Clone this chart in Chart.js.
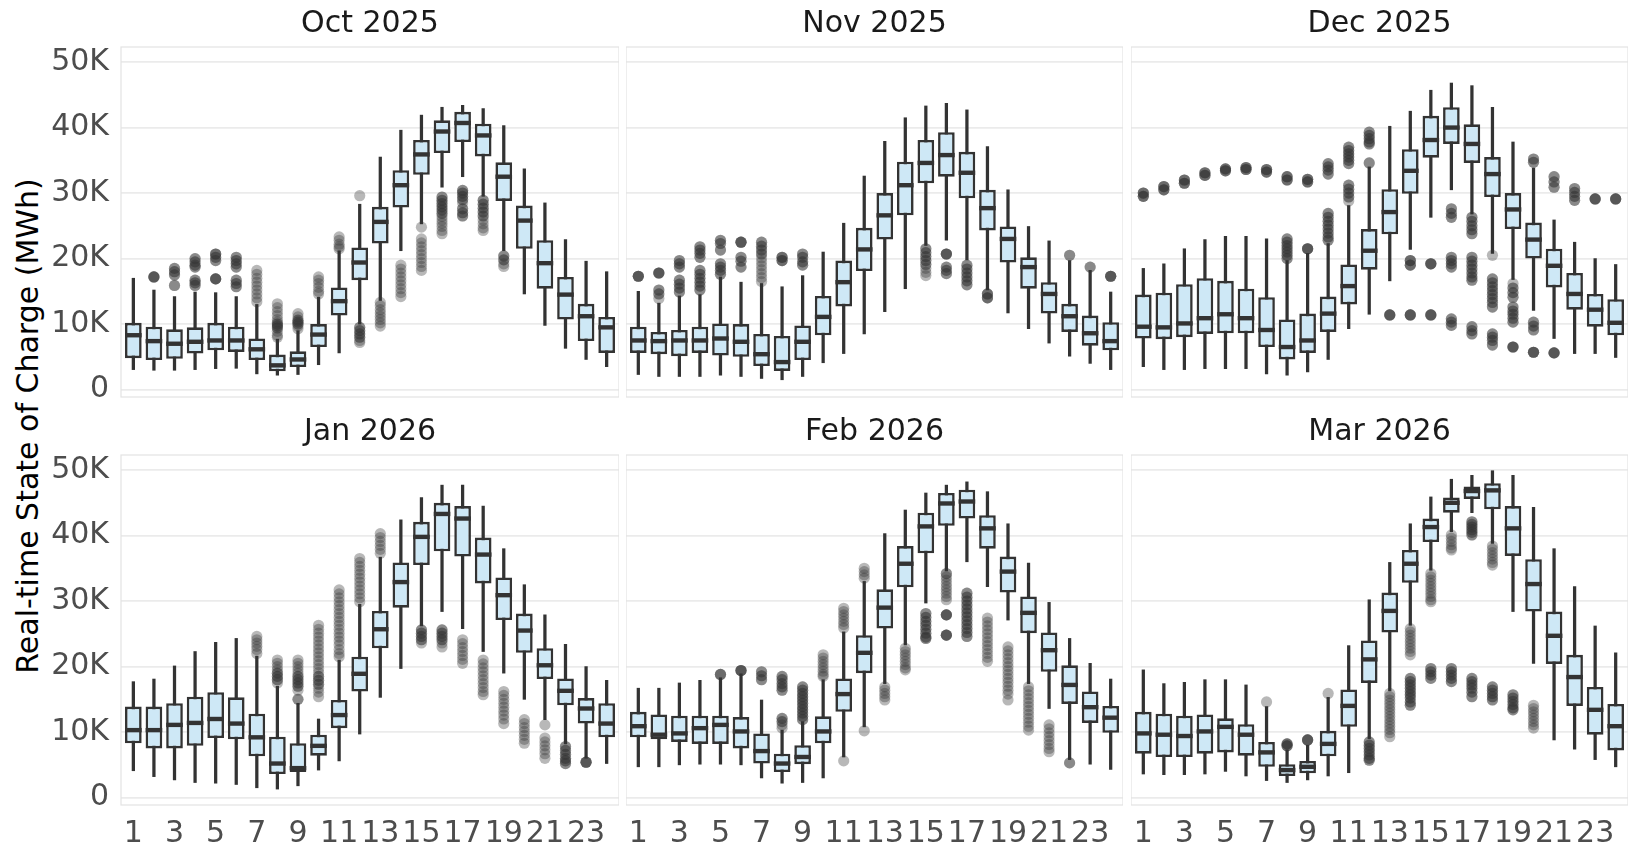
<!DOCTYPE html>
<html>
<head>
<meta charset="utf-8">
<script src="https://cdn.jsdelivr.net/npm/chart.js@4.4.1/dist/chart.umd.min.js"></script>
<style>
	body {margin:0;background:#fff;width:1628px;height:843px;overflow:hidden;position:relative;font-family:"DejaVu Sans"}
	canvas {position:absolute}
	#ytitle {position:absolute;left:27px;top:426px;transform:translate(-50%,-50%) rotate(-90deg);font-size:30px;white-space:nowrap;color:#000}
</style>
</head>
<body>
<div id="ytitle">Real-time State of Charge (MWh)</div>
<script>
const hours = [1,2,3,4,5,6,7,8,9,10,11,12,13,14,15,16,17,18,19,20,21,22,23,24]
const xTicks = [1,3,5,7,9,11,13,15,17,19,21,23]
const yTicks = [0,10000,20000,30000,40000,50000]
const months = ['Oct 2025','Nov 2025','Dec 2025','Jan 2026','Feb 2026','Mar 2026']

// box stats per hour (MWh): whisker low, Q1, median, Q3, whisker high
// outliers: [hour, value, days at that value (default 1)]
const octLo  = [3050,2950,2950,3050,3200,3250,2400,2200,2300,3800,5600,10000,13600,21200,25300,30900,32500,29500,21200,14600,9800,6300,4600,3500]
const octQ1  = [4800,4500,4700,5500,6000,5750,4500,2800,3450,6500,11300,16700,22300,27800,32800,36100,37800,35600,28800,21500,15400,10700,7400,5600]
const octMed = [8300,7400,7000,7300,7500,7500,6150,3700,4600,8400,13500,19400,25600,31200,35900,39400,40700,38800,32500,25800,19300,14500,11200,9500]
const octQ3  = [10200,9600,9200,9500,10200,9600,7800,5350,5850,10000,15600,21700,27900,33500,38100,41100,42400,40600,34700,28100,22800,17200,13100,11100]
const octHi  = [17000,15200,14200,14900,14800,14200,13000,7700,9000,14100,21200,28300,35500,39600,41900,43100,43400,42900,40300,33700,28500,22900,19600,18000]
const octOut = [[2,17200,4],[3,18500,2],[3,18000,2],[3,17500,2],[3,15900,2],
	[4,20000,2],[4,19500,2],[4,19000,2],[4,18700,2],[4,16700,2],[4,16300,2],[4,15900,2],
	[5,20700,3],[5,20200,2],[5,19700,2],[5,16900,4],
	[6,20200,2],[6,19700,2],[6,19200,2],[6,18700,2],[6,16700,2],[6,16200,2],[6,15700,2],
	[7,18200],[7,17600],[7,17000],[7,16400],[7,15800],[7,15200],[7,14600],[7,14000],[7,13400],
	[8,13100],[8,12500],[8,11900],[8,11300],[8,10700],[8,10300],[8,10000,2],[8,9700,2],[8,9400,2],[8,8900],[8,8300],[8,8000],
	[9,11600],[9,11100],[9,10600,2],[9,10300,2],[9,10000,2],[9,9700],[9,9300],
	[10,17200],[10,16700],[10,16200],[10,15600],[10,15000],[10,14600],
	[11,23300],[11,22800],[11,22200],[11,21800],[11,21500],
	[12,29600],[12,9500,2],[12,9000,2],[12,8500,2],[12,8000,2],[12,7500],[12,7200],
	[13,13300],[13,12800],[13,12200],[13,11700],[13,11200],[13,10700],[13,10200],[13,9700],
	[14,19000],[14,18400],[14,17800],[14,17200],[14,16600],[14,16000],[14,15400],[14,14800],[14,14200],
	[15,24800],[15,23000],[15,22400],[15,21800],[15,21200],[15,20600],[15,20000],[15,19400],[15,18800],[15,18200],
	[16,29400,2],[16,28900,2],[16,28400,2],[16,27900,2],[16,27400,2],[16,26900,2],[16,26400],[16,25900],[16,25400],[16,24900],[16,24300],[16,23800],
	[17,30400,2],[17,30000,2],[17,29500,2],[17,29000,2],[17,28500],[17,27600,2],[17,27000,2],[17,26500,2],
	[18,28900,2],[18,28300,2],[18,27700,2],[18,27100,2],[18,26500,2],[18,25900],[18,25300],[18,24700],[18,24300],
	[19,20400,2],[19,19800,2],[19,19200],[19,18800]]

const novLo  = [2300,2000,2000,2000,2200,2000,1700,1500,2000,4100,5500,8500,11900,15400,22000,22800,19800,15200,11700,9300,7100,5100,4000,3050]
const novQ1  = [5600,5400,5100,5600,5200,5000,3600,2850,4500,8300,12700,18100,22900,26600,31500,32500,29200,24300,19400,15400,11600,8800,6700,6000]
const novMed = [7500,7400,7500,7500,7800,7300,5400,4200,7300,11100,16400,21400,26600,31200,34600,35800,33100,27700,23000,18700,14600,11200,8600,7400]
const novQ3  = [9600,8800,9100,9600,10100,10000,8500,8200,9800,14300,19700,24700,30000,34800,38100,39300,36300,30500,24900,20200,16400,13100,11300,10300]
const novHi  = [15000,13200,14300,14500,17200,16400,16200,15700,17400,21000,25400,32600,37900,41500,43300,43700,42700,37100,30500,24900,22700,19700,18200,14900]
const novOut = [[1,17300,4],[2,17800,4],[2,15200,2],[2,14600,2],[2,13900],
	[3,19700,2],[3,19200,2],[3,18700,2],[3,16700,2],[3,16100,2],[3,15500,2],[3,14900,2],
	[4,21800,2],[4,21300,2],[4,20800,2],[4,20200,2],[4,18200,2],[4,17600,2],[4,17000,2],[4,16400,2],[4,15800,2],[4,15200,2],
	[5,22800,2],[5,22300,2],[5,21300,2],[5,19200,2],[5,18700,2],[5,18200,2],[5,17600,2],
	[6,22500,4],[6,20200,2],[6,19600,2],[6,18700,2],
	[7,22500,2],[7,21900,2],[7,21300,2],[7,20700,2],[7,20100],[7,19500],[7,18900],[7,18300],[7,17700],[7,17100],[7,16500],
	[8,20200,3],[8,19700,3],[9,20700,2],[9,20200,2],[9,19500,2],[9,19000,2],
	[15,21500,2],[15,20900,2],[15,20300,2],[15,19700,2],[15,19100,2],[15,18500],[15,17900],[15,17400],
	[16,20700,4],[16,18700,2],[16,18200,2],[16,17700,2],
	[17,19000,2],[17,18400,2],[17,17800,2],[17,17200,2],[17,16600,2],[17,16000,2],
	[18,14600,3],[18,14000,3],[22,20500,2],[23,18700,2],[24,17300,4]]

const decLo  = [3500,3050,3050,3200,3200,3200,2400,2200,2700,4600,9300,11500,16600,21400,26300,30500,26800,20800,16800,12100,7800,5500,5500,4900]
const decQ1  = [7800,7700,8000,8500,8600,8600,6500,4600,5600,8800,13000,18300,23700,29900,35400,37500,34600,29400,24500,20000,15600,12200,9600,8300]
const decMed = [9600,9500,10100,10900,11500,10900,9100,6500,7500,11600,15800,21200,27100,33400,38100,40000,37500,32900,27500,22900,18900,14600,12200,10200]
const decQ3  = [14500,14800,16100,17000,16600,15400,14100,10700,11600,14200,19100,24500,30600,36700,41800,43100,40500,35500,30000,25500,21500,17800,14600,13800]
const decHi  = [18500,19200,21500,22900,23400,23400,23000,19700,20800,22300,28100,34000,40200,42500,45700,46800,46400,43100,37800,33800,25900,22500,20000,19100]
const decOut = [[1,29500,3],[1,30000,3],[2,30500,3],[2,31000,3],[3,31500,3],[3,32000,3],[4,32700,3],[4,33100,3],
	[5,33400,3],[5,33700,3],[6,33600,3],[6,33900,3],[7,33200,3],[7,33600,3],
	[8,32000,3],[8,32500,3],[8,23000,2],[8,22500,2],[8,22000,2],[8,21500,2],[8,21000,2],[8,20500,2],[8,20000,2],
	[9,31700,3],[9,32100,3],[9,21500,4],
	[10,34500,2],[10,34000,2],[10,33500,2],[10,32900,2],[10,26900,2],[10,26300,2],[10,25700,2],[10,25100,2],[10,24500,2],[10,23900,2],[10,23300,2],[10,22800,2],
	[11,37000,2],[11,36500,2],[11,36000,2],[11,35500,2],[11,35000,2],[11,34500,2],[11,31200,2],[11,30600,2],[11,30000,2],[11,29400,2],[11,28800],
	[12,39300,2],[12,38800,2],[12,38300,2],[12,37800,2],[12,37500,2],[12,34600,2],
	[13,11400,4],[14,19700,3],[14,19000,3],[14,11400,4],[15,19200,4],[15,11400,4],
	[16,27600,2],[16,26900,2],[16,26300,2],[16,20200,2],[16,19700,2],[16,19200,2],[16,18700,2],[16,10800,2],[16,10300,2],[16,9800,2],
	[17,26300,2],[17,25700,2],[17,25000,2],[17,24400,2],[17,23800,2],[17,20200,2],[17,19600,2],[17,19000,2],[17,18400,2],[17,17800,2],[17,17200,2],[17,16700,2],[17,9600,2],[17,9000,2],[17,8500,2],
	[18,20500],[18,16900,2],[18,16300,2],[18,15700,2],[18,15100,2],[18,14500,2],[18,13900,2],[18,13300,2],[18,12600,2],[18,8500,2],[18,8000,2],[18,7500,2],[18,6800,2],
	[19,16200],[19,15500,2],[19,14800,2],[19,14100,2],[19,12600,2],[19,12000,2],[19,11500,2],[19,10900,2],[19,10300,2],[19,6500,4],
	[20,35200,2],[20,34700,2],[20,10300,2],[20,9700,2],[20,9100,2],[20,5700,4],
	[21,32500,2],[21,31700,2],[21,30900,2],[21,5600,4],
	[22,30700,2],[22,30100,2],[22,29500,2],[22,28900,2],[23,29100,4],[24,29100,4]]

const janLo  = [4100,3200,2700,2300,2200,2000,1500,1300,1800,4200,5600,9700,15300,19700,26200,28400,25800,22300,19000,15000,11900,8200,6000,5200]
const janQ1  = [8300,7500,7500,7900,9100,8900,6300,3600,3900,6400,10600,16200,22800,29000,35500,37600,36800,32700,27100,22100,18100,14100,11300,9200]
const janMed = [10300,10300,11100,11400,12000,11300,9200,5200,4500,7900,12600,18900,25700,32900,39800,43300,42600,37100,30900,25500,20200,16300,13600,11300]
const janQ3  = [13900,13900,14400,15400,16100,15300,12800,9300,8300,9600,14900,21500,28500,35900,42100,45000,44500,39700,33600,28100,22800,18200,15200,14400]
const janHi  = [17700,18100,20100,22300,23700,24300,21600,17000,14400,12000,21000,29500,36700,42400,45800,47700,47700,44500,38000,32500,27900,23400,20000,17900]
const janOut = [[7,24600],[7,24100],[7,23600],[7,23100],[7,22600],[7,22000],
	[8,21000],[8,20500],[8,20000],[8,19500],[8,19000,2],[8,18500,2],[8,18000,2],[8,17500],
	[9,21000],[9,20500],[9,20000],[9,19500],[9,19000],[9,18500,2],[9,18000,2],[9,17500,2],[9,17000,2],[9,16400],[9,15000,2],
	[10,26300],[10,25700],[10,25100],[10,24500],[10,23900],[10,23300],[10,22700],[10,22100],[10,21500],[10,20900],[10,20300],[10,19700],[10,19100],[10,18500,2],[10,17900,2],[10,17300,2],[10,16700],[10,16100],[10,15400],
	[11,31700],[11,31100],[11,30500],[11,29900],[11,29300],[11,28700],[11,28100],[11,27500],[11,26900],[11,26300],[11,25700],[11,25100],[11,24500],[11,23900],[11,23300],[11,22600],[11,22000],[11,21500],
	[12,36500],[12,35900],[12,35300],[12,34700],[12,34100],[12,33500],[12,32900],[12,32300],[12,31700],[12,31100],[12,30500],[12,29900],
	[13,40300],[13,39700],[13,39100],[13,38500],[13,37900],[13,37300],
	[15,25600,2],[15,25100,2],[15,24600,2],[15,24100,2],[15,23600],
	[16,25600,2],[16,25100,2],[16,24600,2],[16,24100,2],[16,23600],[16,23000],
	[17,24100],[17,23500],[17,22900],[17,22300],[17,21700],[17,21100],[17,20500],
	[18,21000],[18,20400],[18,19800],[18,19200],[18,18600],[18,18000],[18,17400],[18,16800],[18,16200],[18,15700],
	[19,16200],[19,15600],[19,15000],[19,14400],[19,13800],[19,13200],[19,12600],[19,12000],[19,11300],
	[20,11900],[20,11300],[20,10700],[20,10100],[20,9500],[20,8900],[20,8300],
	[21,11100],[21,9100],[21,8500],[21,7900],[21,7300],[21,6700],[21,6000],
	[22,7800,2],[22,7200,2],[22,6600,2],[22,6000,2],[22,5600,2],[22,5200,2],[23,5400,4]]

const febLo  = [4700,4700,5000,5100,5100,5000,3000,2200,2300,3000,6200,10800,17400,23300,29700,34600,36000,32200,27100,17400,13600,5800,5100,4300]
const febQ1  = [9200,8900,8500,8200,8200,7500,5200,3900,5100,8300,13100,19000,25800,32100,37300,41500,42600,38000,31300,25100,19200,14300,11400,9900]
const febMed = [10900,9600,9800,10600,11100,10100,7100,5200,6200,10100,15800,22100,29000,35700,41400,44900,45200,41100,34500,28200,22500,17200,13800,12200]
const febQ3  = [13100,12700,12500,12500,12500,12300,9800,6700,8000,12400,18200,24800,31800,38400,43500,46500,47000,43100,36800,30700,25200,20200,16200,14000]
const febHi  = [16700,16700,17500,17900,18300,18900,14900,10300,11600,18000,25300,33000,40300,43900,46500,47700,48200,46700,41800,35800,29800,24300,20500,18100]
const febOut = [[5,18800,3],[6,19400,4],[7,19200,2],[7,18600,2],[7,18000,2],
	[8,18500,2],[8,18000,2],[8,17400,2],[8,16900,2],[8,16400,2],[8,12100,2],[8,11600,2],[8,11100],[8,10600],
	[9,16900,2],[9,16400,2],[9,15900,2],[9,15400,2],[9,14900,2],[9,14400,2],[9,13900,2],[9,13400,2],[9,12900,2],[9,12400,2],[9,11900,2],
	[10,21800],[10,21300],[10,20800],[10,20300],[10,19800],[10,19300],[10,18800],[10,18500],
	[11,28900],[11,28400],[11,27900],[11,27400],[11,26900],[11,26400],[11,25900],[11,5600],
	[12,35000],[12,34500],[12,34000],[12,33500],[12,10200],
	[13,16900],[13,16400],[13,15900],[13,15400],[13,14900],
	[14,22800],[14,22300],[14,21800],[14,21300],[14,20800],[14,20300],[14,19800],[14,19500],
	[15,28100,2],[15,27500,2],[15,26900,2],[15,26300,2],[15,25700,2],[15,25100,2],[15,24500,2],[15,24300,2],
	[16,34200,2],[16,33700],[16,33200],[16,32700],[16,32200],[16,31700],[16,31200],[16,30700],[16,30200],[16,27900,4],[16,24800,4],
	[17,31200,2],[17,30600,2],[17,30000,2],[17,29400,2],[17,28800,2],[17,28200,2],[17,27600,2],[17,27000,2],[17,26400,2],[17,25800,2],[17,25200,2],[17,24600,2],
	[18,27400],[18,26800],[18,26200],[18,25600],[18,25000],[18,24400],[18,23800],[18,23200],[18,22600],[18,22000],[18,21400],[18,20800],
	[19,23000],[19,22400],[19,21800],[19,21200],[19,20600],[19,20000],[19,19400],[19,18800],[19,18200],[19,17600],[19,17000],[19,16400],[19,15800],[19,14900],
	[20,16900],[20,16300],[20,15700],[20,15100],[20,14500],[20,13900],[20,13300],[20,12700],[20,12100],[20,11500],[20,10900],[20,10300],
	[21,11100],[21,10500],[21,9900],[21,9300],[21,8700],[21,8100],[21,7500],[21,7000],[22,5300,2]]

const marLo  = [3600,3500,3500,3600,4000,3300,2600,2300,2700,3300,3800,9000,16300,26300,34700,40600,43500,38800,28400,20500,8800,7400,5800,4700]
const marQ1  = [6700,6200,6200,6700,6900,6400,4700,3300,3700,6300,10800,17500,25200,32800,39000,43500,45600,44000,36900,28400,20400,14000,9600,7200]
const marMed = [9800,9600,9400,10100,10800,9600,6900,4200,4700,8200,14000,21100,28500,35700,41300,45000,46800,46900,41100,32600,24700,18400,13400,10900]
const marQ3  = [13100,12800,12500,12700,12100,11200,8500,5100,5600,10200,16500,24000,31300,37800,42600,45800,47500,48000,44500,36400,28400,21800,16900,14300]
const marHi  = [19500,17400,17600,18000,18000,17200,13900,7300,8000,15300,23200,30200,35900,41800,45900,48600,49200,49900,49200,44300,38000,32200,26200,22100]
const marOut = [[7,14600],[8,8200,3],[8,7900,3],[9,8800,4],[10,15900],
	[12,8500,2],[12,8000,2],[12,7500,2],[12,7000,2],[12,6500,2],[12,6000,2],[12,5700,2],
	[13,15900],[13,15400],[13,14900],[13,14400],[13,13900],[13,13400],[13,12900],[13,12400],[13,11900],[13,11400],[13,10900],[13,10400],[13,9900],[13,9300],
	[14,25800],[14,25300],[14,24800],[14,24300],[14,23800],[14,23300],[14,22800],[14,22300],[14,21800],[14,18200,2],[14,17700,2],[14,17200,2],[14,16700,2],[14,16200,2],[14,15700,2],[14,15200,2],[14,14600,2],[14,14100,2],
	[15,34200],[15,33700],[15,33200],[15,32700],[15,32200],[15,31700],[15,31200],[15,30700],[15,30200],[15,29900],[15,19700,2],[15,19200,2],[15,18700,2],[15,18200,2],
	[16,40100],[16,39600],[16,39100],[16,38600],[16,38100],[16,37800],[16,19700,2],[16,19200,2],[16,18700,2],[16,18200,2],[16,17700,2],
	[17,42100,2],[17,41700,2],[17,41300,2],[17,40900,2],[17,40500,2],[17,40100,2],[17,18200,2],[17,17700,2],[17,17200,2],[17,16700,2],[17,16100,2],[17,15400,2],
	[18,38400],[18,37900],[18,37400],[18,36900],[18,36400],[18,35900],[18,35500],[18,16900,2],[18,16400,2],[18,15900,2],[18,15400,2],[18,14900,2],
	[19,15700,2],[19,15200,2],[19,14700,2],[19,14200,2],[19,13700,2],[19,13400,2],
	[20,14100],[20,13600],[20,13100],[20,12600],[20,12100],[20,11600],[20,11100],[20,10600]]

const panelLeft = [121, 626, 1131]
const panelWidth = [498, 497, 497]
const panelTop = [47, 455]
const panelHeight = 350
const titleH = 47
const boxFill = '#CEE8F6'
const inkColor = '#333333'

Chart.defaults.font.family = 'DejaVu Sans'
Chart.defaults.animation = false

const panelBorder = {
	id: 'panelBorder',
	beforeDatasetsDraw(chart) {
		const {ctx, chartArea} = chart
		ctx.save()
		ctx.strokeStyle = '#E3E3E3'
		ctx.lineWidth = 1.2
		ctx.strokeRect(chartArea.left, chartArea.top, chartArea.right - chartArea.left, chartArea.bottom - chartArea.top)
		ctx.restore()
	}
}

function noPadding(axis) {
	axis.paddingLeft = 0
	axis.paddingRight = 0
	axis.paddingTop = 0
	axis.paddingBottom = 0
}

function drawPanel(idx, title, lo, q1, med, q3, hi, out) {
	const col = idx % 3
	const row = Math.floor(idx / 3)
	const yAxisW = col === 0 ? 81 : 0
	const xAxisH = row === 1 ? 38 : 0
	const spare = row === 0 ? 20 : 0

	const canvas = document.createElement('canvas')
	canvas.width = panelWidth[col] + yAxisW
	canvas.height = titleH + panelHeight + xAxisH + spare
	canvas.style.left = (panelLeft[col] - yAxisW) + 'px'
	canvas.style.top = (panelTop[row] - titleH) + 'px'
	document.body.appendChild(canvas)

	const outPoints = []
	out.forEach(([h, v, n = 1]) => {
		for (let k = 0; k < n; k++) outPoints.push({x: h, y: v})
	})

	new Chart(canvas, {
		type: 'bar',
		data: {
			datasets: [
				{
					label: 'whisker',
					data: hours.map((h, i) => ({x: h, y: [lo[i], hi[i]]})),
					backgroundColor: inkColor,
					barThickness: 2.6,
					maxBarThickness: 2.6,
					grouped: false,
					order: 4,
				},
				{
					label: 'box',
					data: hours.map((h, i) => ({x: h, y: [q1[i], q3[i]]})),
					backgroundColor: boxFill,
					borderColor: inkColor,
					borderWidth: 2.6,
					borderSkipped: false,
					barPercentage: 0.81,
					categoryPercentage: 1,
					grouped: false,
					order: 3,
				},
				{
					type: 'line',
					label: 'median',
					data: hours.map((h, i) => ({x: h, y: med[i]})),
					showLine: false,
					pointStyle: 'line',
					pointRadius: 8.3,
					pointBorderWidth: 4.4,
					pointBorderColor: inkColor,
					order: 2,
				},
				{
					type: 'line',
					label: 'outliers',
					data: outPoints,
					showLine: false,
					pointRadius: 5.6,
					pointBackgroundColor: 'rgba(51,51,51,0.35)',
					pointBorderWidth: 0,
					order: 1,
				},
			],
		},
		options: {
			responsive: false,
			events: [],
			layout: {autoPadding: false, padding: {left: 0, right: 0, top: 0, bottom: spare}},
			plugins: {
				legend: {display: false},
				tooltip: {enabled: false},
				title: {
					display: true,
					text: title,
					fullSize: false,
					color: '#1A1A1A',
					font: {size: 30, weight: 'normal'},
					padding: {top: 6, bottom: 5},
				},
			},
			scales: {
				x: {
					type: 'linear',
					min: 0.4,
					max: 24.6,
					offset: false,
					grid: {display: false},
					border: {display: false},
					afterBuildTicks: (axis) => { axis.ticks = xTicks.map(v => ({value: v})) },
					afterFit: (axis) => { axis.height = xAxisH; noPadding(axis) },
					ticks: {
						display: row === 1,
						autoSkip: false,
						maxRotation: 0,
						padding: 3,
						color: '#4D4D4D',
						font: {size: 30},
						callback: (v) => String(v),
					},
				},
				y: {
					min: -1130,
					max: 52300,
					grid: {color: '#EBEBEB', lineWidth: 1.8, drawTicks: false},
					border: {display: false},
					afterBuildTicks: (axis) => { axis.ticks = yTicks.map(v => ({value: v})) },
					afterFit: (axis) => { axis.width = yAxisW; noPadding(axis) },
					ticks: {
						display: col === 0,
						padding: 12,
						color: '#4D4D4D',
						font: {size: 30},
						callback: (v) => v === 0 ? '0' : (v / 1000) + 'K',
					},
				},
			},
		},
		plugins: [panelBorder],
	})
}

drawPanel(0, months[0], octLo, octQ1, octMed, octQ3, octHi, octOut)
drawPanel(1, months[1], novLo, novQ1, novMed, novQ3, novHi, novOut)
drawPanel(2, months[2], decLo, decQ1, decMed, decQ3, decHi, decOut)
drawPanel(3, months[3], janLo, janQ1, janMed, janQ3, janHi, janOut)
drawPanel(4, months[4], febLo, febQ1, febMed, febQ3, febHi, febOut)
drawPanel(5, months[5], marLo, marQ1, marMed, marQ3, marHi, marOut)
</script>
</body>
</html>
